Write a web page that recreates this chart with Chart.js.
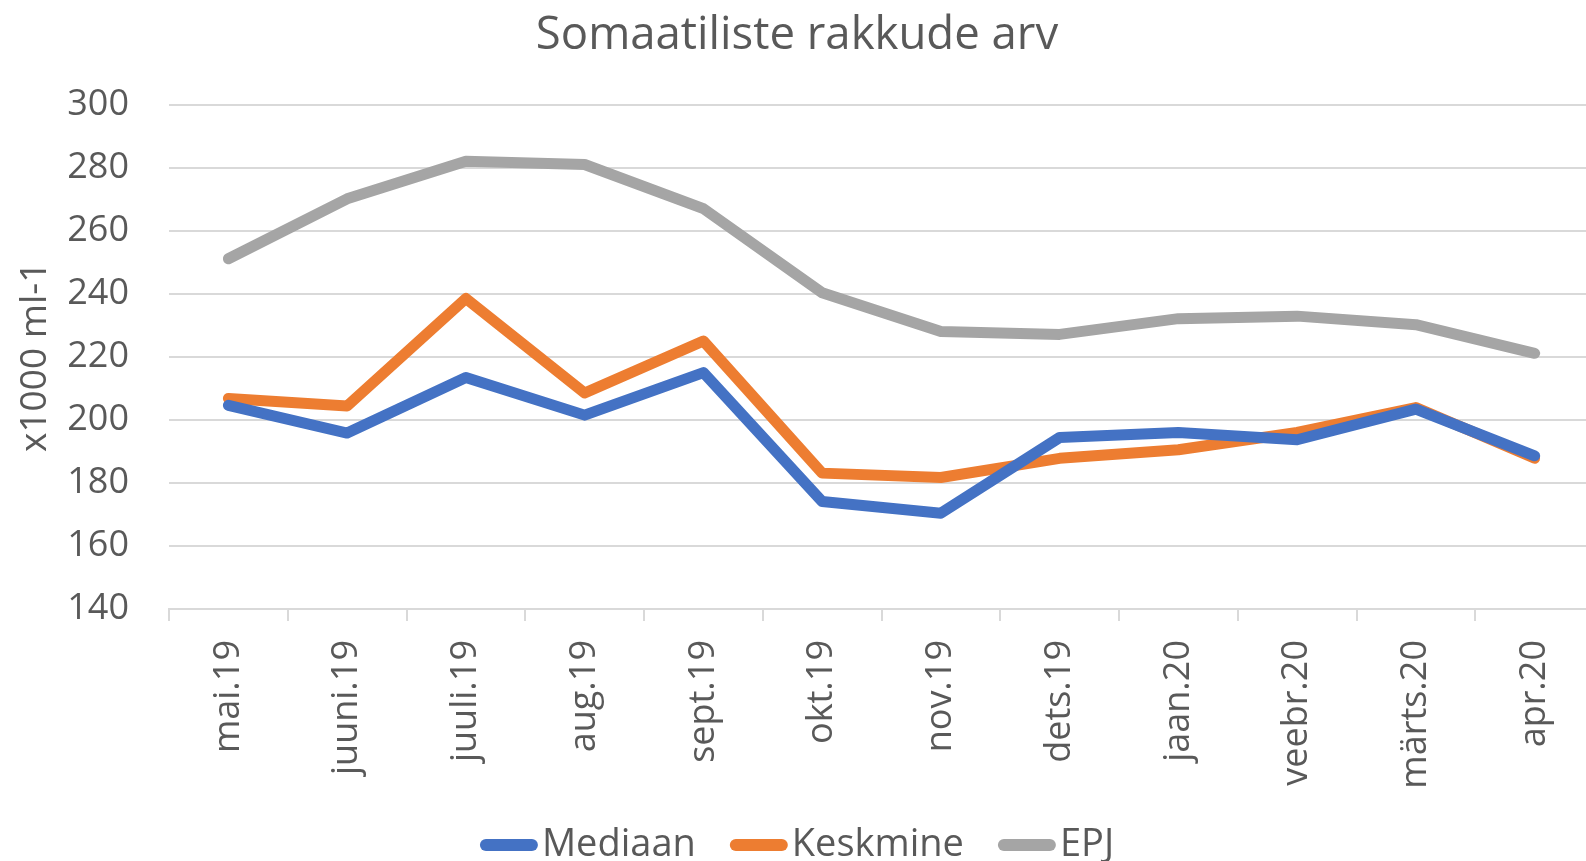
<!DOCTYPE html>
<html>
<head>
<meta charset="utf-8">
<script src="https://cdn.jsdelivr.net/npm/chart.js@4/dist/chart.umd.min.js"></script>
<style>
  html, body { margin: 0; padding: 0; background: #ffffff; overflow: hidden; width: 1586px; height: 861px; }
  #wrap { width: 1594px; height: 861px; position: relative; }
</style>
</head>
<body>
<div id="wrap"><canvas id="c"></canvas></div>
<script>
const categories = ['mai.19','juuni.19','juuli.19','aug.19','sept.19','okt.19','nov.19','dets.19','jaan.20','veebr.20','märts.20','apr.20'];
const mediaan  = [204.6, 195.8, 213.4, 201.5, 215.0, 174.1, 170.4, 194.4, 196.0, 193.7, 203.4, 188.6];
const keskmine = [206.8, 204.4, 238.5, 208.5, 225.0, 183.1, 181.7, 187.8, 190.5, 196.0, 203.9, 187.8];
const epj      = [251.1, 270.1, 282.0, 281.0, 267.0, 240.3, 228.0, 227.1, 232.1, 232.9, 230.2, 221.1];
const yMin = 140, yMax = 300, yStep = 20;
const titleText = 'Somaatiliste rakkude arv';
const yTitle = 'x1000 ml-1';

const TXT = '#595959';
const GRID = '#d9d9d9';
const FONT = "'Open Sans', sans-serif";

function ds(label, data, color) {
  return {
    label, data,
    borderColor: color, backgroundColor: color,
    borderWidth: 11, pointRadius: 0, pointHoverRadius: 0,
    borderCapStyle: 'round', borderJoinStyle: 'round',
    tension: 0, fill: false
  };
}

// Legend drawn along the bottom, marker right next to its text
const bottomLegend = {
  id: 'bottomLegend',
  afterDraw(chart) {
    const ctx = chart.ctx;
    const fontSize = 38, markW = 58, markH = 12, gapText = 4, gapItem = 34;
    const cy = 845;
    ctx.save();
    ctx.font = fontSize + "px " + FONT;
    const items = chart.data.datasets.map(d => ({ label: d.label, color: d.borderColor, w: ctx.measureText(d.label).width }));
    let total = items.reduce((s, it) => s + markW + gapText + it.w, 0) + gapItem * (items.length - 1);
    let x = chart.width / 2 - total / 2;
    ctx.textBaseline = 'middle';
    ctx.textAlign = 'left';
    items.forEach(it => {
      ctx.strokeStyle = it.color;
      ctx.lineWidth = markH;
      ctx.lineCap = 'round';
      ctx.beginPath();
      ctx.moveTo(x + markH / 2, cy);
      ctx.lineTo(x + markW - markH / 2, cy);
      ctx.stroke();
      ctx.fillStyle = TXT;
      ctx.fillText(it.label, x + markW + gapText, cy);
      x += markW + gapText + it.w + gapItem;
    });
    ctx.restore();
  }
};

new Chart(document.getElementById('c'), {
  type: 'line',
  data: {
    labels: categories,
    datasets: [
      ds('Mediaan', mediaan, '#4472c4'),
      ds('Keskmine', keskmine, '#ed7d31'),
      ds('EPJ', epj, '#a5a5a5')
    ]
  },
  plugins: [bottomLegend],
  options: {
    responsive: true,
    maintainAspectRatio: false,
    animation: false,
    layout: { padding: { left: 0, right: 0, top: 0, bottom: 0 } },
    plugins: {
      title: {
        display: true, text: titleText, color: TXT,
        font: { family: FONT, size: 45.5, weight: 'normal' },
        padding: { top: 9, bottom: 41 }
      },
      legend: { display: false },
      tooltip: { enabled: false }
    },
    scales: {
      x: {
        offset: true,
        grid: { display: true, drawOnChartArea: false, drawTicks: true, tickLength: 12, color: GRID, lineWidth: 2, offset: true },
        border: { display: true, color: GRID, width: 2 },
        ticks: { color: TXT, font: { family: FONT, size: 36 }, minRotation: 90, maxRotation: 90, padding: 19, autoSkip: false },
        afterFit(s) { s.height = 252; s.paddingLeft = 0; s.paddingRight = 0; }
      },
      y: {
        min: yMin, max: yMax,
        grid: { color: GRID, lineWidth: 2, drawTicks: false },
        border: { display: false },
        ticks: { stepSize: yStep, color: TXT, font: { family: FONT, size: 36 }, padding: 40 },
        title: { display: true, text: yTitle, color: TXT, font: { family: FONT, size: 37 }, padding: { top: 13, bottom: 0 } },
        afterFit(s) { s.width = 169; }
      }
    }
  }
});
</script>
</body>
</html>
